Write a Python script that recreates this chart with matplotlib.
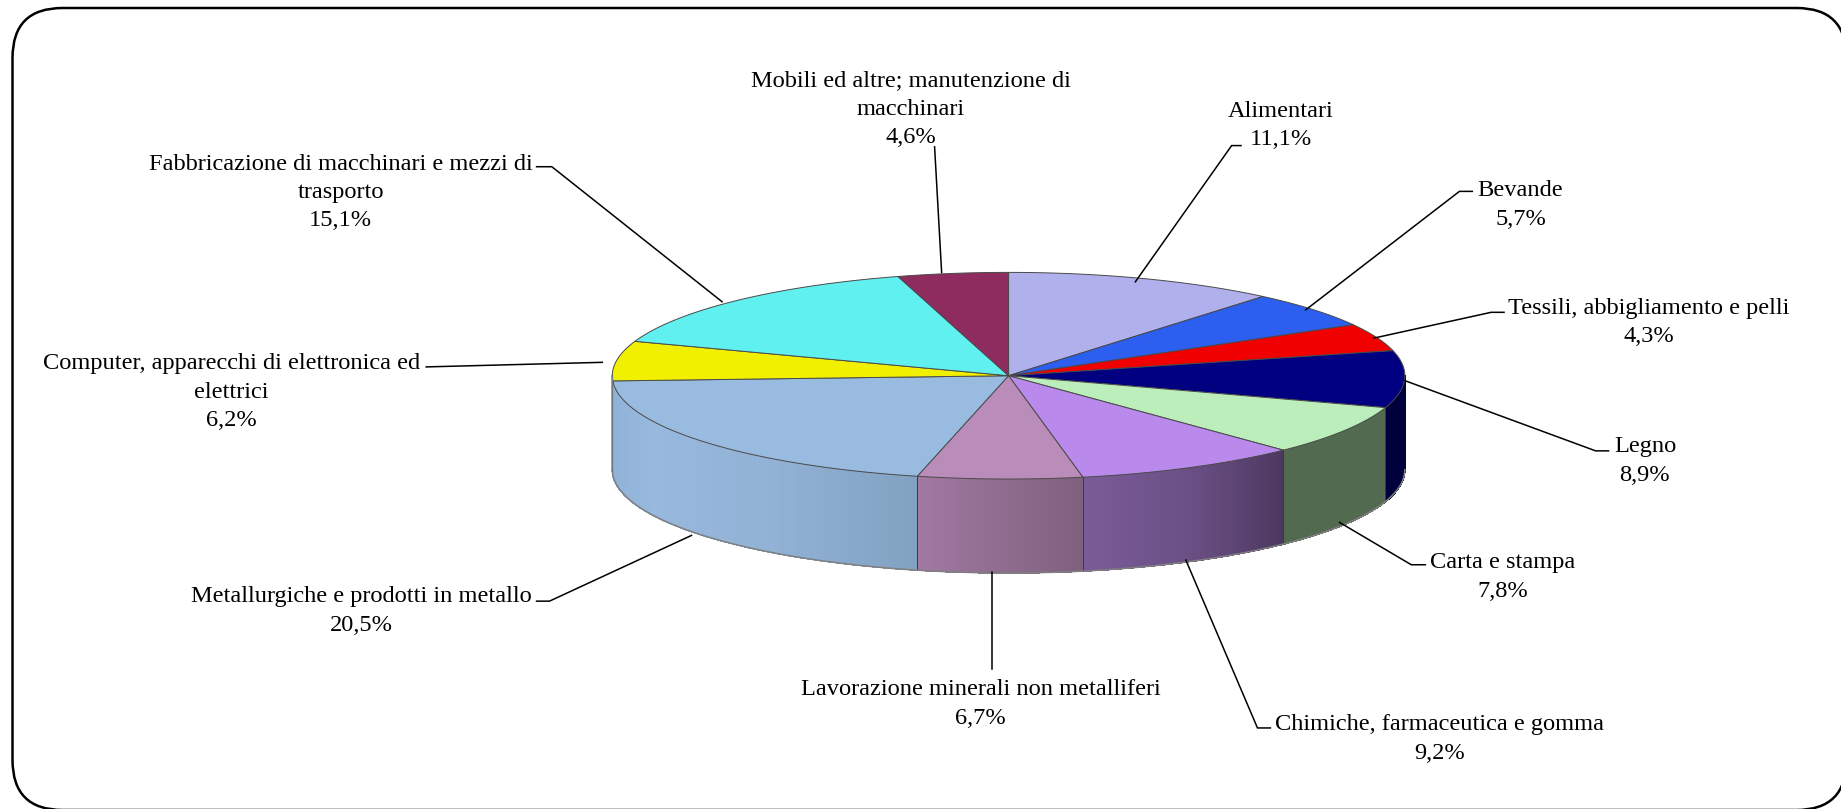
import numpy as np
import matplotlib
matplotlib.use('Agg')
from matplotlib import pyplot as plt
from matplotlib.colors import to_rgb
from matplotlib.patches import FancyBboxPatch, Polygon

# valori (quote %, senso orario dalle ore 12)
settori = ['Alimentari', 'Bevande', 'Tessili, abbigliamento e pelli', 'Legno', 'Carta e stampa',
           'Chimiche, farmaceutica e gomma', 'Lavorazione minerali non metalliferi',
           'Metallurgiche e prodotti in metallo',
           'Computer, apparecchi di elettronica ed\nelettrici',
           'Fabbricazione di macchinari e mezzi di\ntrasporto',
           'Mobili ed altre; manutenzione di\nmacchinari']
quote = [11.1, 5.7, 4.3, 8.9, 7.8, 9.2, 6.7, 20.5, 6.2, 15.1, 4.6]

colori = ['#b0b0ec', '#2c5ef0', '#f00000', '#000080', '#bbeebb', '#b98aec', '#ba8cb9',
          '#99bbe0', '#f0f000', '#60f0f0', '#8e2c60']
# sfumatura del fianco, da sinistra a destra
fianchi = [['#8888bb'], ['#1a3a90'], ['#900000'], ['#00003c'], ['#526a50'],
           ['#7a5c98', '#6a4f85', '#4c385f'], ['#a279a3', '#8f6d8f', '#80607f'],
           ['#8fb0d6', '#98b9de', '#92b3d6', '#82a2c2'], ['#8fb0d6'], ['#409090'], ['#501838']]

# posizioni (coordinate dell'immagine ridotta 1568 px)
pos_testo = [(1091, 107), (1295, 174.5), (1404, 274.5), (1401, 392.5), (1280, 491.5), (1226, 629.5),
             (835, 599.5), (308, 520.5), (197, 334), (290, 164), (776, 93)]
guide = [[(1057, 124), (1049, 124), (967, 240)],
         [(1254, 163), (1243, 163), (1112, 264)],
         [(1281, 266), (1270, 266), (1170, 288)],
         [(1370, 384), (1359, 384), (1196, 324)],
         [(1214, 481), (1202, 481), (1141, 445)],
         [(1082, 620), (1071, 620), (1010, 477)],
         [(845, 570), (845, 487)],
         [(457, 512), (468, 512), (589, 456)],
         [(363, 312.5), (513, 308.6)],
         [(457, 142), (470, 142), (615, 257)],
         [(796, 125), (802, 232)]]

S = 1841 / 1568
CX, CY = 859 * S, 320 * S
RX, RY = 337.5 * S, 88 * S
H = 80 * S


def punto(t, dy=0):
    return CX + RX * np.cos(t), CY - RY * np.sin(t) + dy


def sfuma(stops, f):
    rgb = np.array([to_rgb(c) for c in stops])
    if len(stops) == 1:
        return rgb[0]
    xs = np.linspace(0, 1, len(stops))
    return [np.interp(f, xs, rgb[:, k]) for k in range(3)]


fig = plt.figure(figsize=(18.41, 8.09), dpi=100)
ax = fig.add_axes([0, 0, 1, 1])
ax.set_xlim(0, 1841)
ax.set_ylim(809, 0)
ax.axis('off')

ax.add_patch(FancyBboxPatch((12.5, 8), 1834, 802, boxstyle='round,pad=0,rounding_size=50',
                            fc='white', ec='black', lw=1.8, clip_on=False))

bordi = 90 - 3.6 * np.concatenate([[0], np.cumsum(quote)])
bordi[-1] = -270
bordi = np.radians(bordi)

# fianchi visibili
for i in range(len(quote)):
    t0 = max(bordi[i + 1], -np.pi)
    t1 = min(bordi[i], 0)
    if t1 <= t0:
        continue
    n = 80
    tt = np.linspace(t0, t1, n + 1)
    for k in range(n):
        x0, y0 = punto(tt[k])
        x1, y1 = punto(tt[k + 1])
        col = sfuma(fianchi[i], (k + 0.5) / n)
        ax.add_patch(Polygon([(x0, y0), (x1, y1), (x1, y1 + H), (x0, y0 + H)], closed=True,
                             fc=col, ec=col, lw=0.5, antialiased=False))
    for t in (t0, t1):
        if -3.04 < t < -0.01:
            x, y = punto(t)
            ax.plot([x, x], [y, y + H], color='#3c3c3c', lw=0.7)

tb = np.linspace(-np.pi, 0, 300)
xb, yb = punto(tb, H)
ax.plot(xb, yb, color='#808080', lw=1.1)
ax.plot([CX - RX, CX - RX], [CY, CY + H], color='#707880', lw=0.9)

# faccia superiore
for i in range(len(quote)):
    tt = np.linspace(bordi[i], bordi[i + 1], 100)
    x, y = punto(tt)
    vert = [(CX, CY)] + list(zip(x, y))
    ax.add_patch(Polygon(vert, closed=True, fc=colori[i], ec='#4a4a4a', lw=0.7, joinstyle='round'))

# guide ed etichette
for i in range(len(quote)):
    xy = np.array(guide[i]) * S
    ax.plot(xy[:, 0], xy[:, 1], color='black', lw=1.1, solid_joinstyle='miter')
    testo = settori[i] + '\n' + ('%.1f%%' % quote[i]).replace('.', ',')
    ax.text(pos_testo[i][0] * S, pos_testo[i][1] * S, testo, ha='center', va='center',
            family='Liberation Serif', fontsize=17.6, linespacing=1.46, color='black')

fig.savefig('out.png', dpi=100)
